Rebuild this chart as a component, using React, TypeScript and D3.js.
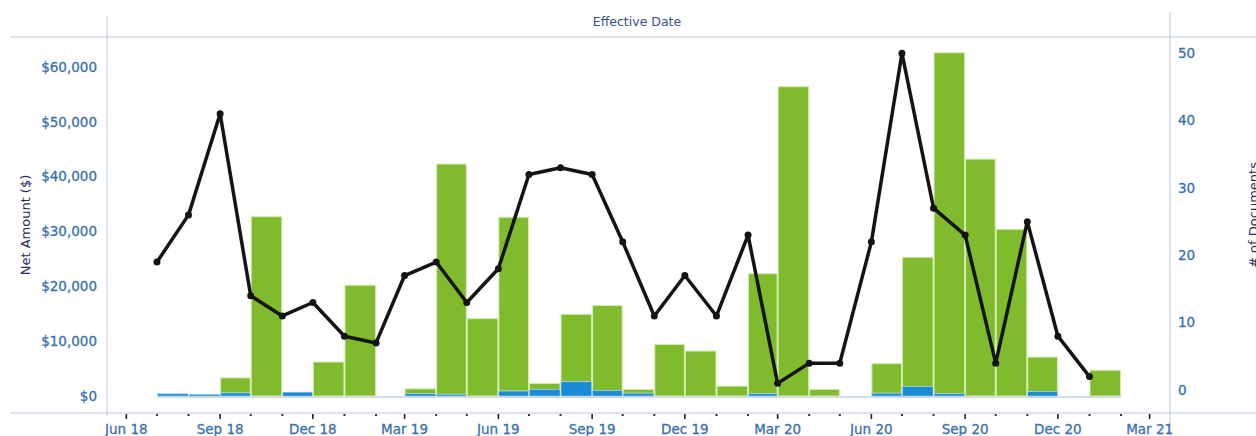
import React from "react";
import { scaleTime, scaleLinear, line as d3_line, timeMonth, timeParse, timeFormat } from "d3";

// monthly buckets, Jul 18 .. Jan 21
const months = [
    "2018-07", "2018-08", "2018-09", "2018-10", "2018-11", "2018-12",
    "2019-01", "2019-02", "2019-03", "2019-04", "2019-05", "2019-06",
    "2019-07", "2019-08", "2019-09", "2019-10", "2019-11", "2019-12",
    "2020-01", "2020-02", "2020-03", "2020-04", "2020-05", "2020-06",
    "2020-07", "2020-08", "2020-09", "2020-10", "2020-11", "2020-12",
    "2021-01",
];

// net amount ($), blue part at the bottom, green stacked on top
const blueAmount = [
    400, 300, 550, 0, 700, 0,
    0, 0, 400, 300, 0, 900,
    1200, 2600, 1000, 500, 0, 0,
    0, 400, 0, 0, 0, 500,
    1700, 400, 0, 0, 800, 0,
    0,
];
const greenAmount = [
    0, 0, 2750, 32700, 0, 6200,
    20200, 0, 900, 42000, 14100, 31700,
    1100, 12300, 15500, 700, 9400, 8200,
    1800, 21900, 56400, 1200, 0, 5400,
    23600, 62200, 43200, 30400, 6300, 0,
    4700,
];

// # of documents per month (line)
const docCount = [
    19, 26, 41, 14, 11, 13,
    8, 7, 17, 19, 13, 18,
    32, 33, 32, 22, 11, 17,
    11, 23, 1, 4, 4, 22,
    50, 27, 23, 4, 25, 8,
    2,
];

const amountTicks = [0, 10000, 20000, 30000, 40000, 50000, 60000];
const countTicks = [0, 10, 20, 30, 40, 50];

const W = 1256;
const H = 436;
const left = 107;
const right = 1170;
const top = 37;
const bottom = 413;

const FONT = "'DejaVu Sans', Verdana, sans-serif";
const tickBlue = "#3870b0";
const axisGrey = "#bcc7da";

export default function App() {
    const parse = timeParse("%Y-%m");
    const dates = months.map((m) => parse(m) as Date);

    const x = scaleTime()
        .domain([new Date(2018, 4, 13), new Date(2021, 2, 21)])
        .range([left, right]);

    const yAmount = scaleLinear().domain([-3100, 65470]).range([bottom, top]);
    const yCount = scaleLinear().domain([-3.4, 52.4]).range([bottom, top]);

    const fmtAmount = (v: number) => "$" + v.toLocaleString("en-US");
    const fmtMonth = timeFormat("%b %y");

    const allMonths = timeMonth.range(new Date(2018, 5, 1), new Date(2021, 2, 2));

    const pts = dates.map((d, i) => ({ d, v: docCount[i] }));
    const line = d3_line<(typeof pts)[number]>()
        .x((p) => x(p.d))
        .y((p) => yCount(p.v));

    return (
        <svg width={W} height={H} style={{ position: "absolute", left: 0, top: 0, background: "#fff" }}>
            {/* frame */}
            <line x1={10} x2={W} y1={top} y2={top} stroke={axisGrey} />
            <line x1={10} x2={W} y1={bottom} y2={bottom} stroke={axisGrey} />
            <line x1={left} x2={left} y1={16} y2={bottom + 3} stroke={axisGrey} />
            <line x1={right} x2={right} y1={12} y2={H} stroke={axisGrey} />

            <text x={637} y={26} textAnchor="middle" fontFamily={FONT} fontSize={12.5} fill="#3a4f8e">
                Effective Date
            </text>

            {/* left axis */}
            {amountTicks.map((t) => (
                <text key={t} x={97} y={yAmount(t)} dy="0.35em" textAnchor="end"
                    fontFamily={FONT} fontSize={13.5} fill={tickBlue} stroke={tickBlue} strokeWidth={0.3}>
                    {fmtAmount(t)}
                </text>
            ))}
            <text transform={`translate(30,225) rotate(-90)`} textAnchor="middle"
                fontFamily={FONT} fontSize={13} fill="#2c2a5c">
                Net Amount ($)
            </text>

            {/* right axis */}
            {countTicks.map((t) => (
                <text key={t} x={1178} y={yCount(t)} dy="0.35em"
                    fontFamily={FONT} fontSize={13.5} fill={tickBlue} stroke={tickBlue} strokeWidth={0.3}>
                    {t}
                </text>
            ))}
            <text transform={`translate(1258,215) rotate(-90)`} textAnchor="middle"
                fontFamily={FONT} fontSize={13} fill="#2c2a5c">
                # of Documents
            </text>

            {/* x axis ticks */}
            {allMonths.map((m, i) => {
                const major = m.getMonth() % 3 === 2;
                const xm = x(m);
                return major ? (
                    <g key={i}>
                        <line x1={xm} x2={xm} y1={bottom + 1} y2={bottom + 6} stroke="#222" strokeWidth={1.6} />
                        <text x={xm} y={434} textAnchor="middle" fontFamily={FONT} fontSize={13.5}
                            fill={tickBlue} stroke={tickBlue} strokeWidth={0.3}>
                            {fmtMonth(m)}
                        </text>
                    </g>
                ) : (
                    <rect key={i} x={xm - 1} y={bottom + 1} width={2} height={2} fill="#333" />
                );
            })}

            {/* bars */}
            {dates.map((d, i) => {
                const x0 = x(d);
                const x1 = x(timeMonth.offset(d, 1));
                const base = yAmount(0);
                const yb = yAmount(blueAmount[i]);
                const yg = yAmount(blueAmount[i] + greenAmount[i]);
                return (
                    <g key={i}>
                        <rect x={x0} y={base} width={x1 - x0} height={2} fill="#d3dbe9" />
                        {greenAmount[i] > 0 && (
                            <rect x={x0 + 0.5} y={yg} width={x1 - x0 - 1} height={yb - yg}
                                fill="#7fbb2c" stroke="#d6ecb0" strokeWidth={1} />
                        )}
                        {blueAmount[i] > 0 && (
                            <rect x={x0 + 0.5} y={yb} width={x1 - x0 - 1} height={base - yb}
                                fill="#1a8bd6" stroke="#9fcdee" strokeWidth={0.6} />
                        )}
                    </g>
                );
            })}

            {/* document count line */}
            <path d={line(pts) ?? ""} fill="none" stroke="#141414" strokeWidth={3.5} strokeLinejoin="round" />
            {pts.map((p, i) => (
                <circle key={i} cx={x(p.d)} cy={yCount(p.v)} r={3.5} fill="#141414" />
            ))}
        </svg>
    );
}
